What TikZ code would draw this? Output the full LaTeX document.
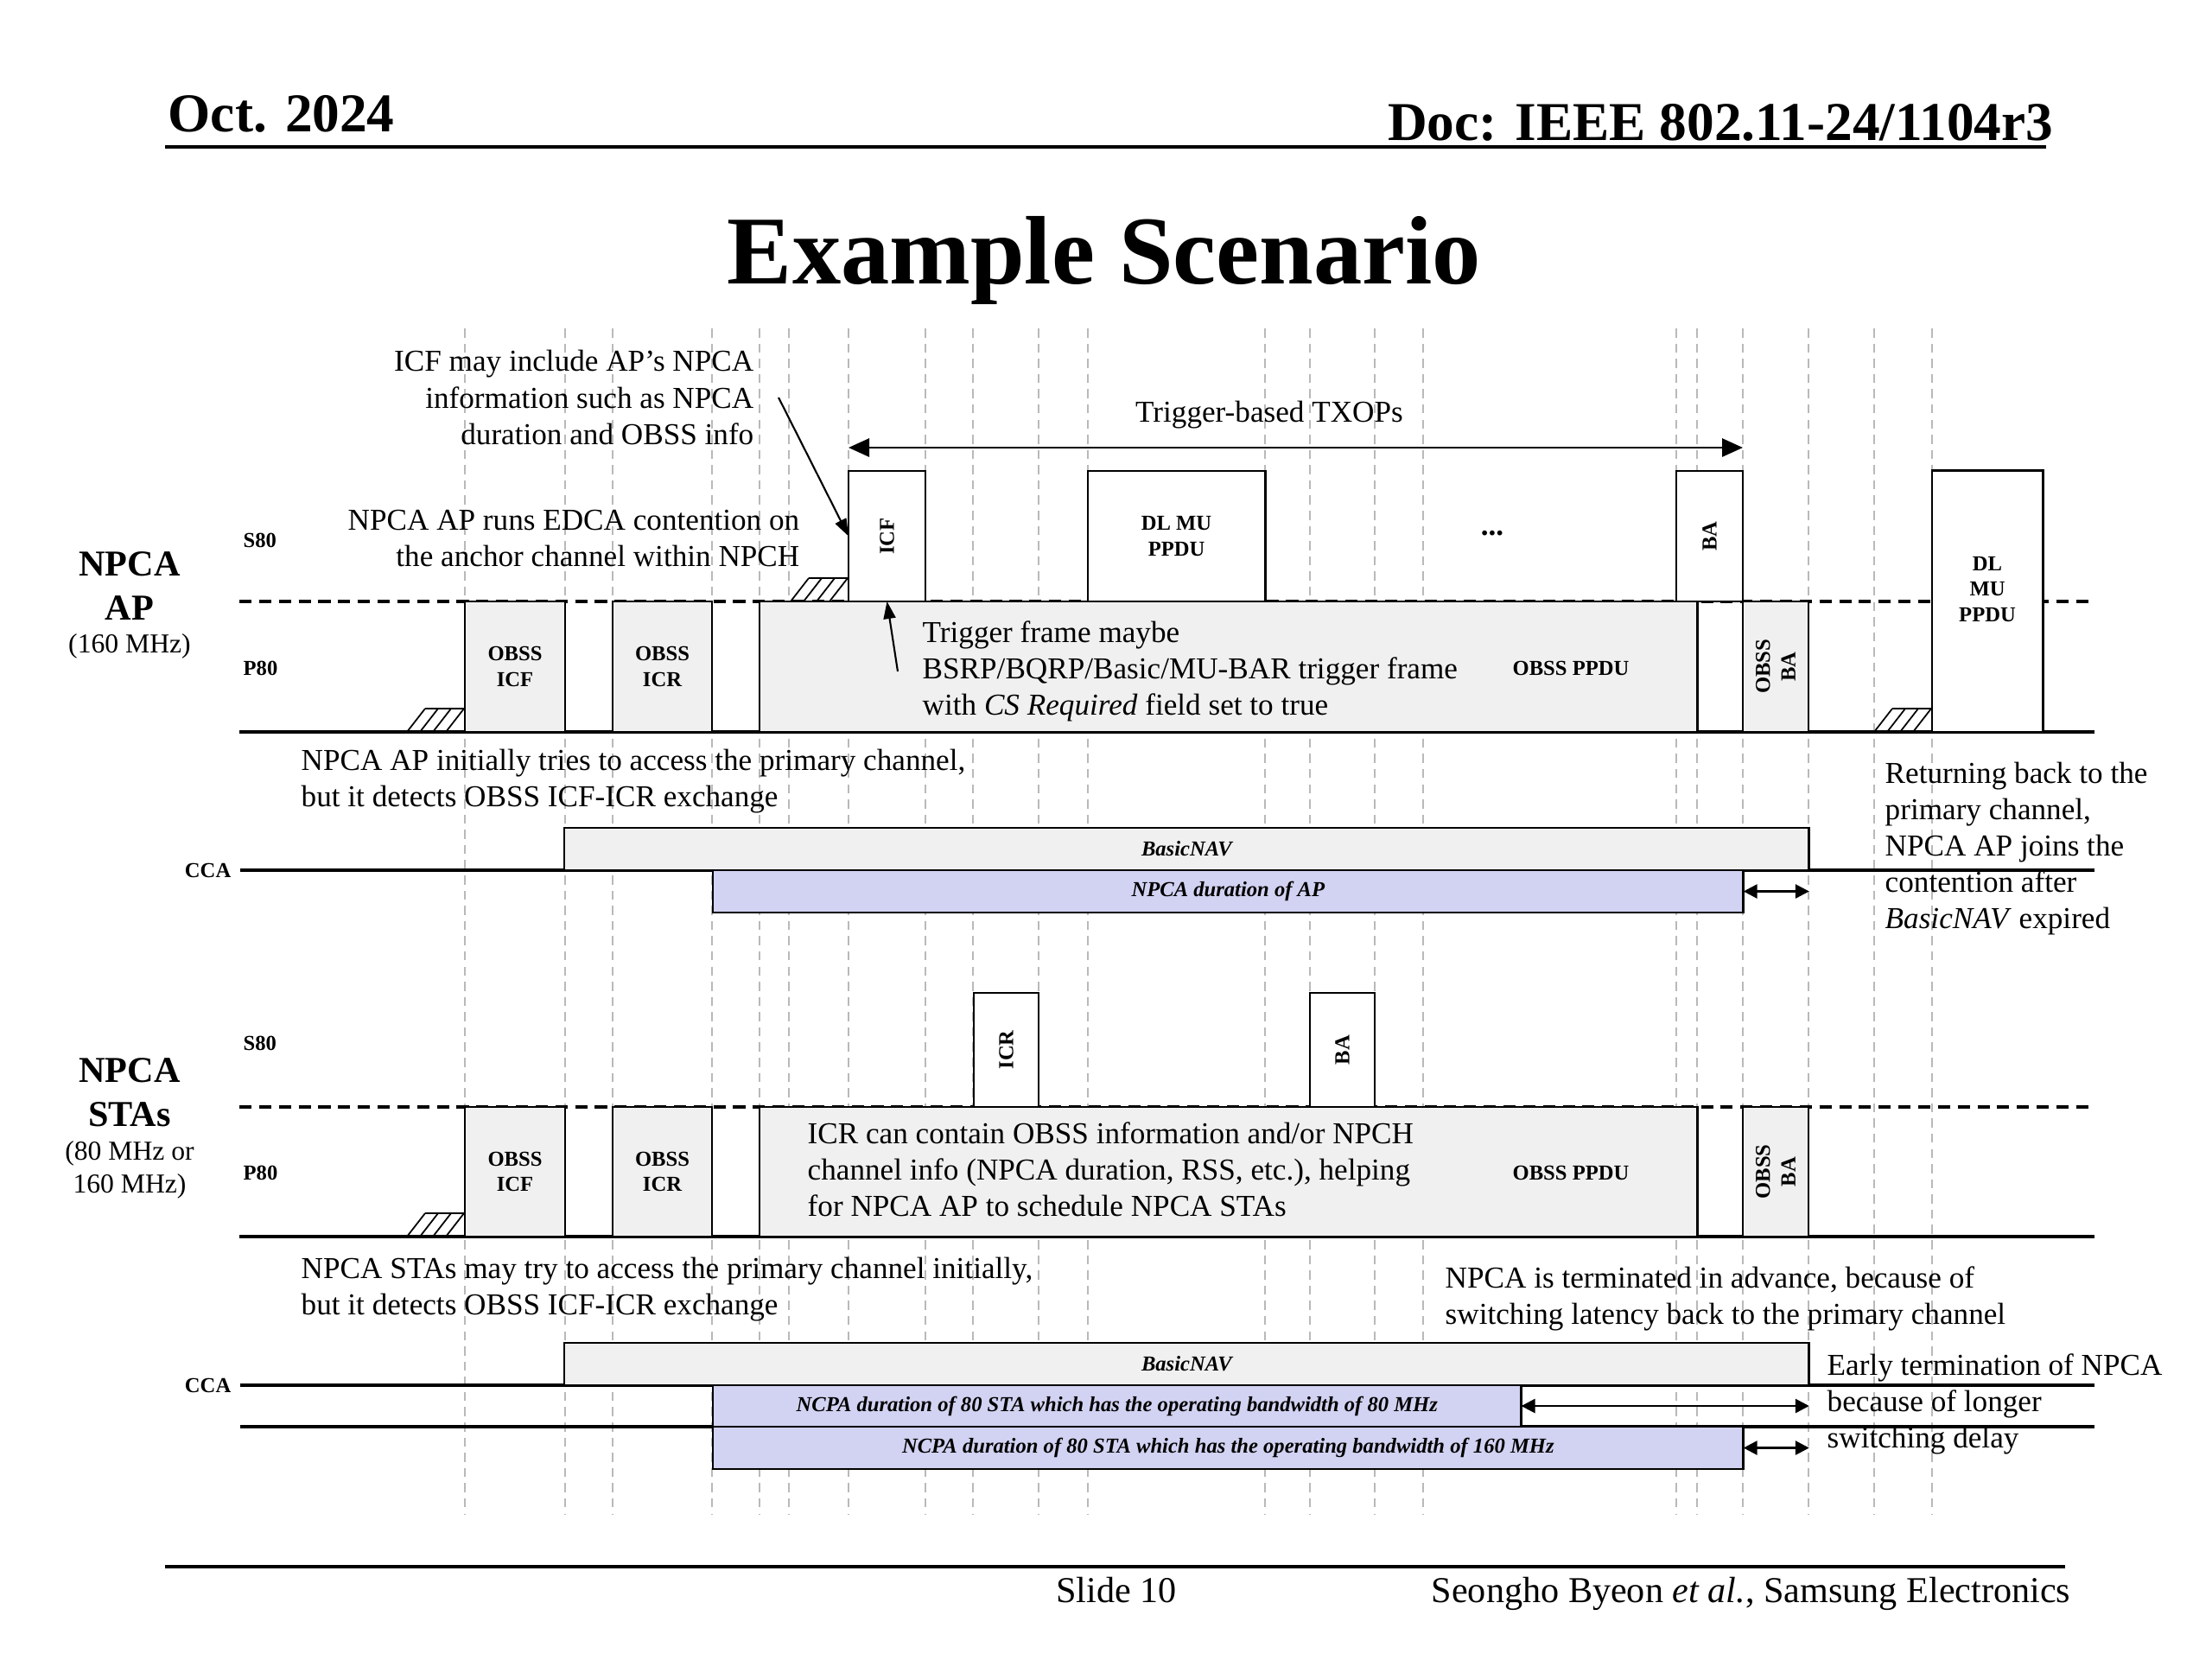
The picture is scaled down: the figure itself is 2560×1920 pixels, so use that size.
\documentclass[tikz,border=0pt]{standalone}
\usepackage{fontspec}
\setmainfont{Liberation Serif}
\usetikzlibrary{arrows.meta}
\definecolor{navgray}{RGB}{240,240,240}
\definecolor{npcablue}{RGB}{210,210,242}

\begin{document}
\begin{tikzpicture}[x=0.01cm,y=-0.01cm,
guide/.style={gray!55,line width=0.5pt,dash pattern=on 3pt off 2pt},
chan/.style={line width=1.1pt},
split/.style={line width=0.9pt,dash pattern=on 4pt off 2.5pt},
pkt/.style={draw,line width=0.8pt,fill=white,inner sep=0,outer sep=0,align=center,font=\fontsize{7}{8.4}\selectfont\bfseries},
obss/.style={pkt,fill=navgray},
nav/.style={pkt,fill=navgray,font=\fontsize{7}{8.4}\selectfont\bfseries\itshape},
npca/.style={nav,fill=npcablue},
tag/.style={inner sep=0,align=center,font=\fontsize{7}{8.4}\selectfont\bfseries},
note/.style={inner sep=0,font=\fontsize{10}{12}\selectfont},
who/.style={inner sep=0,align=center,font=\fontsize{12}{14.5}\selectfont\bfseries},
bw/.style={inner sep=0,align=center,font=\fontsize{9}{10.8}\selectfont},
hatch/.style={line width=0.5pt},
txop/.style={{Triangle[length=2.4mm,width=2.1mm]}-{Triangle[length=2.4mm,width=2.1mm]},line width=0.8pt},
dbl/.style={{Triangle[length=1.6mm,width=1.6mm]}-{Triangle[length=1.6mm,width=1.6mm]},line width=0.8pt},
point/.style={-{Triangle[length=2mm,width=1.4mm]},line width=0.6pt}]
\useasboundingbox (0,0) rectangle (2560,1920);

\node[inner sep=0,anchor=base west,font=\fontsize{18}{20}\selectfont\bfseries] (date) at (194,152) {Oct. 2024};
\node[inner sep=0,anchor=base east,font=\fontsize{18}{20}\selectfont\bfseries] (doc) at (2377,162) {Doc: IEEE 802.11-24/1104r3};
\draw[line width=1pt] (191,170) -- (2368,170);
\node[inner sep=0,anchor=base,font=\fontsize{32}{36}\selectfont\bfseries] (title) at (1278,328) {Example Scenario};
\draw[line width=1pt] (191,1813) -- (2390,1813);
\node[inner sep=0,anchor=base,font=\fontsize{12}{14}\selectfont] (slide) at (1292,1854) {Slide 10};
\node[inner sep=0,anchor=base east,font=\fontsize{12}{14}\selectfont] (author) at (2397,1854) {Seongho Byeon \textit{et al.}, Samsung Electronics};

\foreach \gx in {538,654,709,824,879,913,982,1071,1126,1202,1259,1464,1516,1591,1647,1940,1964,2017,2093,2169,2236}
    \draw[guide] (\gx,380) -- (\gx,1753);

\draw[split] (277,696) -- (2418,696);
\draw[chan] (277,847) -- (2424,847);
\draw[chan] (278,1007) -- (2424,1007);
\draw[split] (277,1281) -- (2418,1281);
\draw[chan] (277,1431) -- (2424,1431);
\draw[chan] (278,1603) -- (2424,1603);
\draw[chan] (278,1651) -- (2424,1651);

\node[who] (ap-name) at (150,678) {NPCA\\AP};
\node[bw] (ap-bw) at (150,748) {(160 MHz)};
\node[who] (sta-name) at (150,1264) {NPCA\\STAs};
\node[bw] (sta-bw) at (150,1354) {(80 MHz or\\160 MHz)};
\node[tag,anchor=west] (ap-s80) at (281,625) {S80};
\node[tag,anchor=west] (ap-p80) at (281,773) {P80};
\node[tag,anchor=east] (ap-cca) at (268,1007) {CCA};
\node[tag,anchor=west] (sta-s80) at (281,1207) {S80};
\node[tag,anchor=west] (sta-p80) at (281,1357) {P80};
\node[tag,anchor=east] (sta-cca) at (268,1603) {CCA};

\foreach \hx/\hy in {538/847,982/696,2236/847,538/1431}
{\draw[hatch] (\hx-46,\hy-27) -- (\hx,\hy-27);
    \foreach \k in {0,...,3}
    \draw[hatch] (\hx-67+\k*15,\hy) -- ++(21,-27);}

\node[obss,anchor=south west,minimum width=1.16cm,minimum height=1.51cm] (ap-obss-icf) at (538,847) {OBSS\\ICF};
\node[obss,anchor=south west,minimum width=1.15cm,minimum height=1.51cm] (ap-obss-icr) at (709,847) {OBSS\\ICR};
\node[obss,anchor=south west,minimum width=10.85cm,minimum height=1.51cm] (ap-obss-ppdu) at (879,847) {};
\node[tag] (ap-ppdu-txt) at (1818,773) {OBSS PPDU};
\node[pkt,anchor=south west,minimum width=0.89cm,minimum height=1.51cm] (ap-icf) at (982,696) {};
\node[tag,rotate=90] (ap-icf-txt) at (ap-icf) {ICF};
\node[pkt,anchor=south west,minimum width=2.05cm,minimum height=1.51cm] (ap-dlmu) at (1259,696) {DL MU\\PPDU};
\node[tag,font=\fontsize{10}{12}\selectfont\bfseries] (ap-dots) at (1727,617) {...};
\node[pkt,anchor=south west,minimum width=0.77cm,minimum height=1.51cm] (ap-ba) at (1940,696) {};
\node[tag,rotate=90] (ap-ba-txt) at (ap-ba) {BA};
\node[obss,anchor=south west,minimum width=0.76cm,minimum height=1.51cm] (ap-obss-ba) at (2017,847) {};
\node[tag,rotate=90] (ap-obss-ba-txt) at (ap-obss-ba) {OBSS\\BA};
\node[pkt,anchor=south west,minimum width=1.28cm,minimum height=3.02cm] (ap-dlmu2) at (2236,847) {};
\node[tag] (ap-dlmu2-txt) at (2300,682) {DL\\MU\\PPDU};

\coordinate (txop-l) at (982,518);
\coordinate (txop-r) at (2017,518);
\draw[txop] (txop-l) -- (txop-r);
\node[note] (txop-txt) at (1469,480) {Trigger-based TXOPs};

\node[note,anchor=east,align=right] (icf-note) at (873,460) {ICF may include AP's NPCA\\information such as NPCA\\duration and OBSS info};
\node[note,anchor=east,align=right] (edca-note) at (926,623) {NPCA AP runs EDCA contention on\\the anchor channel within NPCH};
\node[note,anchor=west,align=left] (trig-note) at (1067,777) {Trigger frame maybe\\BSRP/BQRP/Basic/MU-BAR trigger frame\\with \textit{CS Required} field set to true};
\draw[point] ([xshift=0.28cm]icf-note.east) -- (ap-icf.west);
\draw[point] ([xshift=-0.28cm]trig-note.west) -- (ap-icf.south);

\node[note,anchor=west,align=left] (ap-init) at (348,904) {NPCA AP initially tries to access the primary channel,\\but it detects OBSS ICF-ICR exchange};
\node[nav,anchor=south west,minimum width=14.40cm,minimum height=0.49cm] (ap-nav) at (653,1007) {BasicNAV};
\node[npca,anchor=north west,minimum width=11.92cm,minimum height=0.49cm] (ap-npca) at (825,1007) {NPCA duration of AP};
\draw[dbl] (ap-npca.east) -- (ap-npca.east -| ap-nav.east);
\node[note,anchor=west,align=left] (ret-note) at (2181,982) {Returning back to the\\primary channel,\\NPCA AP joins the\\contention after\\\textit{BasicNAV} expired};

\node[obss,anchor=south west,minimum width=1.16cm,minimum height=1.50cm] (sta-obss-icf) at (538,1431) {OBSS\\ICF};
\node[obss,anchor=south west,minimum width=1.15cm,minimum height=1.50cm] (sta-obss-icr) at (709,1431) {OBSS\\ICR};
\node[obss,anchor=south west,minimum width=10.85cm,minimum height=1.50cm] (sta-obss-ppdu) at (879,1431) {};
\node[tag] (sta-ppdu-txt) at (1818,1357) {OBSS PPDU};
\node[pkt,anchor=south west,minimum width=0.75cm,minimum height=1.32cm] (sta-icr) at (1127,1281) {};
\node[tag,rotate=90] (sta-icr-txt) at (sta-icr) {ICR};
\node[pkt,anchor=south west,minimum width=0.75cm,minimum height=1.32cm] (sta-ba) at (1516,1281) {};
\node[tag,rotate=90] (sta-ba-txt) at (sta-ba) {BA};
\node[obss,anchor=south west,minimum width=0.76cm,minimum height=1.50cm] (sta-obss-ba) at (2017,1431) {};
\node[tag,rotate=90] (sta-obss-ba-txt) at (sta-obss-ba) {OBSS\\BA};
\node[note,anchor=west,align=left] (icr-note) at (934,1353) {ICR can contain OBSS information and/or NPCH\\channel info (NPCA duration, RSS, etc.), helping\\for NPCA AP to schedule NPCA STAs};

\node[note,anchor=west,align=left] (sta-init) at (348,1492) {NPCA STAs may try to access the primary channel initially,\\but it detects OBSS ICF-ICR exchange};
\node[note,anchor=west,align=left] (term-note) at (1672,1503) {NPCA is terminated in advance, because of\\switching latency back to the primary channel};
\node[nav,anchor=south west,minimum width=14.40cm,minimum height=0.49cm] (sta-nav) at (653,1603) {BasicNAV};
\node[npca,anchor=north west,minimum width=9.35cm,minimum height=0.48cm] (sta-npca80) at (825,1603) {NCPA duration of 80 STA which has the operating bandwidth of 80 MHz};
\node[npca,anchor=north west,minimum width=11.92cm,minimum height=0.49cm] (sta-npca160) at (825,1651) {NCPA duration of 80 STA which has the operating bandwidth of 160 MHz};
\draw[dbl] (sta-npca80.east) -- (sta-npca80.east -| sta-nav.east);
\draw[dbl] (sta-npca160.east) -- (sta-npca160.east -| sta-nav.east);
\node[note,anchor=west,align=left] (early-note) at (2114,1625) {Early termination of NPCA\\because of longer\\switching delay};
\end{tikzpicture}
\end{document}
